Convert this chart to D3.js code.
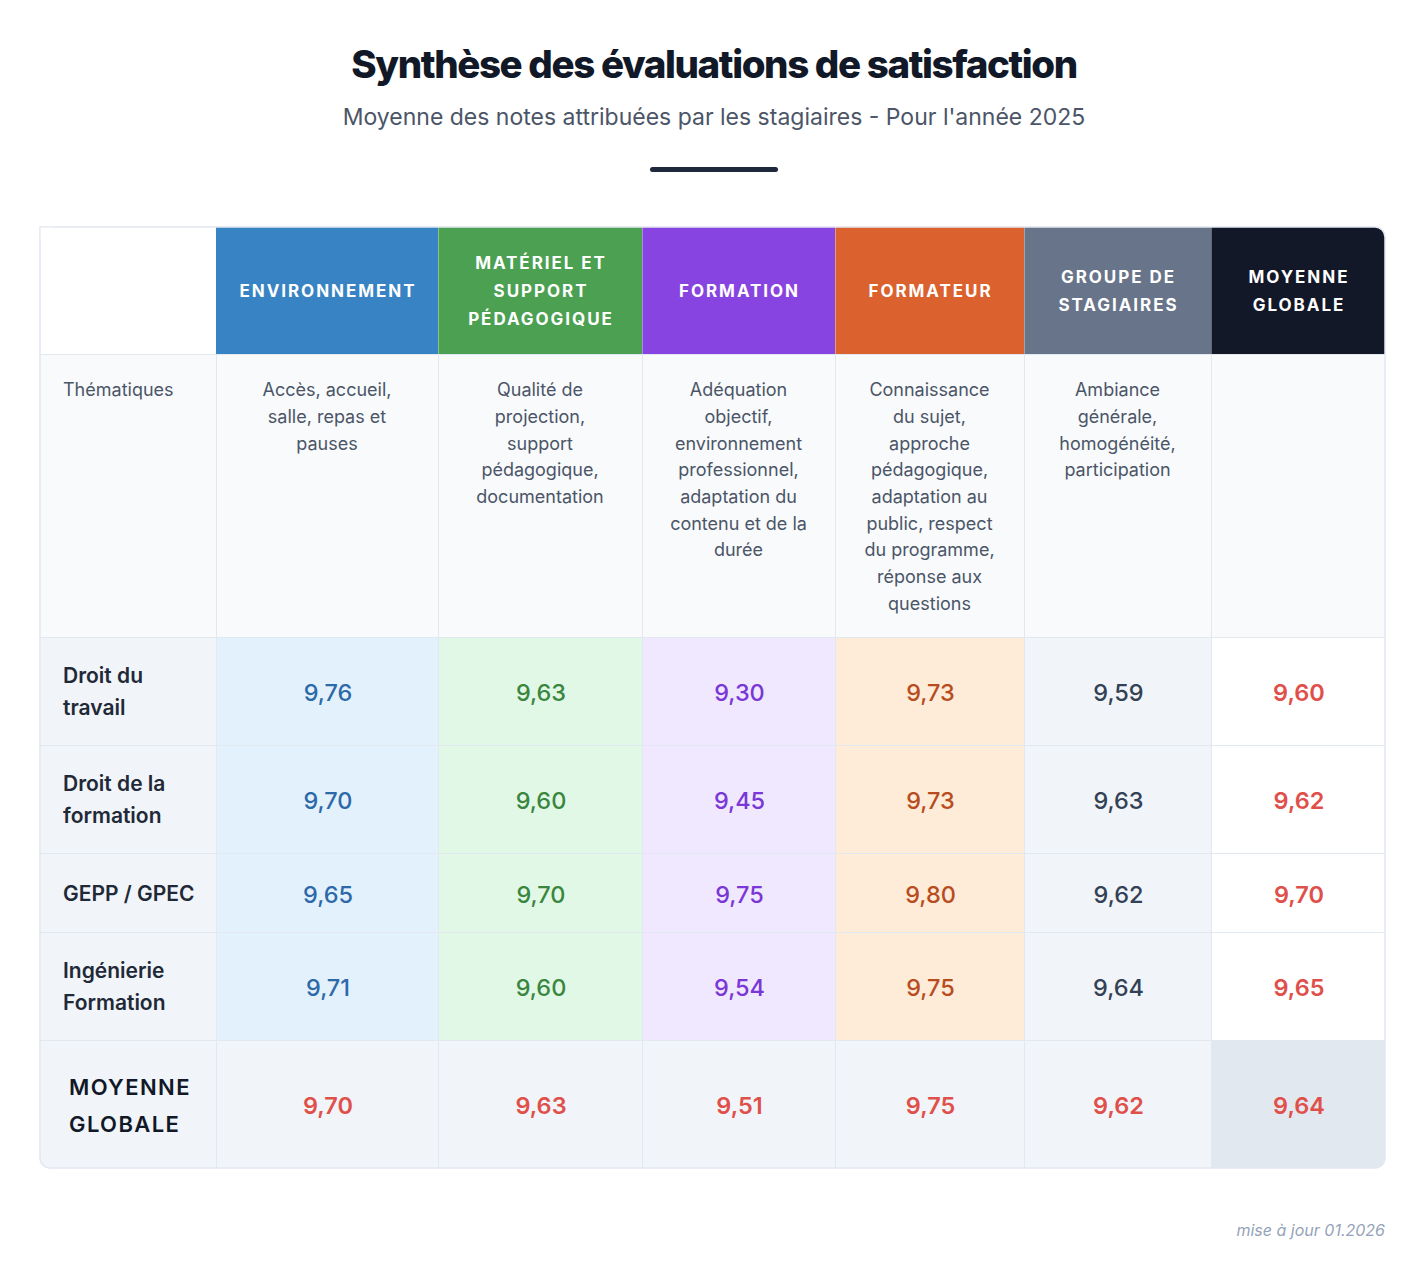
<!DOCTYPE html>
<html><head><meta charset="utf-8">
<script src="https://cdn.jsdelivr.net/npm/d3@7"></script>
<style>
html,body{margin:0;padding:0;background:#ffffff;}
svg{display:block;font-family:Inter,"Noto Sans",sans-serif;}
</style></head>
<body>
<svg id="chart" width="1428" height="1268"></svg>
<script>
// ---------- DATA ----------
const title = "Synthèse des évaluations de satisfaction";
const subtitle = "Moyenne des notes attribuées par les stagiaires - Pour l'année 2025";
const footnote = "mise à jour 01.2026";
const columnHeaders = [
  ["ENVIRONNEMENT"],
  ["MATÉRIEL ET","SUPPORT","PÉDAGOGIQUE"],
  ["FORMATION"],
  ["FORMATEUR"],
  ["GROUPE DE","STAGIAIRES"],
  ["MOYENNE","GLOBALE"]
];
const themeLabel = "Thématiques";
const themeDescriptions = [
  ["Accès, accueil,","salle, repas et","pauses"],
  ["Qualité de","projection,","support","pédagogique,","documentation"],
  ["Adéquation","objectif,","environnement","professionnel,","adaptation du","contenu et de la","durée"],
  ["Connaissance","du sujet,","approche","pédagogique,","adaptation au","public, respect","du programme,","réponse aux","questions"],
  ["Ambiance","générale,","homogénéité,","participation"],
  []
];
const rowLabels = [
  ["Droit du","travail"],
  ["Droit de la","formation"],
  ["GEPP / GPEC"],
  ["Ingénierie","Formation"]
];
const rowDroitTravail   = [9.76, 9.63, 9.30, 9.73, 9.59, 9.60];
const rowDroitFormation = [9.70, 9.60, 9.45, 9.73, 9.63, 9.62];
const rowGepp           = [9.65, 9.70, 9.75, 9.80, 9.62, 9.70];
const rowIngenierie     = [9.71, 9.60, 9.54, 9.75, 9.64, 9.65];
const globalLabel = ["MOYENNE","GLOBALE"];
const globalAverages    = [9.70, 9.63, 9.51, 9.75, 9.62, 9.64];

// ---------- STYLE / LAYOUT ----------
const headerFill = ["#3783c3","#4ba052","#8844e0","#db622e","#687489","#121828"];
const cellFill   = ["#e3f1fd","#e2f8e7","#f0e8fe","#feecd8","#f1f5f9","#ffffff"];
const valueColor = ["#2c69a8","#3a863e","#7a36d6","#b84c1f","#334155","#e0504b"];
const valueWeight= [500,500,500,500,500,600];
const colWidths  = [176, 222, 204, 193, 189, 187, 174];
const rowHeights = [127, 283, 108, 108, 79, 108, 128];
const tableLeft = 40, tableTop = 227;
const border = "#e2e8f0";

const fr = d3.formatLocale({decimal:",", thousands:" ", grouping:[3], currency:["","€"]});
const fmt = fr.format(".2f");

const svg = d3.select("#chart");
const W = 1428;

// column and row edge scales
const colEdges = d3.cumsum([0, ...colWidths]).map(v => v + tableLeft);
const rowEdges = d3.cumsum([0, ...rowHeights]).map(v => v + tableTop);
const x = d3.scaleOrdinal().domain(d3.range(colEdges.length)).range(colEdges);
const y = d3.scaleOrdinal().domain(d3.range(rowEdges.length)).range(rowEdges);
const cw = i => x(i+1) - x(i);
const rh = i => y(i+1) - y(i);
const tableRight = x(colWidths.length), tableBottom = y(rowHeights.length);

// Title block
svg.append("text").attr("x", W/2).attr("y", 78).attr("text-anchor","middle")
  .attr("font-size", 38.5).attr("font-weight", 800).attr("letter-spacing", -1.4)
  .attr("fill","#111827").text(title);
svg.append("text").attr("x", W/2).attr("y", 125).attr("text-anchor","middle")
  .attr("font-size", 23).attr("font-weight", 400).attr("fill","#4b5567").text(subtitle);
svg.append("rect").attr("x", W/2-64).attr("y", 167).attr("width",128).attr("height",5)
  .attr("rx",2.5).attr("fill","#1e293b");

// Table clip
const defs = svg.append("defs");
defs.append("clipPath").attr("id","tclip").append("rect")
  .attr("x", tableLeft).attr("y", tableTop).attr("width", tableRight-tableLeft)
  .attr("height", tableBottom-tableTop).attr("rx", 10);

const g = svg.append("g").attr("clip-path","url(#tclip)");
g.append("rect").attr("x",tableLeft).attr("y",tableTop).attr("width",cw(0)).attr("height",rh(0)).attr("fill","#fff");

const dataRows = [rowDroitTravail, rowDroitFormation, rowGepp, rowIngenierie];

// header row
columnHeaders.forEach((lines, j) => {
  const c = j+1;
  g.append("rect").attr("x",x(c)).attr("y",y(0)).attr("width",cw(c)).attr("height",rh(0)).attr("fill",headerFill[j]);
  const lh = 28, cy = y(0) + rh(0)/2 - (lines.length-1)*lh/2 + 0.5;
  const t = g.append("text").attr("text-anchor","middle").attr("fill","#fff")
    .attr("font-size",17).attr("font-weight",700).attr("letter-spacing",1.95);
  lines.forEach((s,k) => t.append("tspan").attr("x", x(c)+cw(c)/2 + 1).attr("y", cy + k*lh).attr("dy","0.35em").text(s));
});

// thematiques row
g.append("rect").attr("x",x(0)).attr("y",y(1)).attr("width",tableRight-tableLeft).attr("height",rh(1)).attr("fill","#f8fafc");
g.append("text").attr("x",x(0)+23).attr("y",y(1)+36).attr("dy","0.35em").attr("font-size",18)
  .attr("fill","#4b5567").text(themeLabel);
themeDescriptions.forEach((lines, j) => {
  const c = j+1;
  const t = g.append("text").attr("text-anchor","middle").attr("fill","#4b5567").attr("font-size",18);
  lines.forEach((s,k) => t.append("tspan").attr("x", x(c)+cw(c)/2).attr("y", y(1)+36+k*26.65).attr("dy","0.35em").text(s));
});

// data rows
dataRows.forEach((vals, i) => {
  const r = i+2;
  g.append("rect").attr("x",x(0)).attr("y",y(r)).attr("width",cw(0)).attr("height",rh(r)).attr("fill","#f1f5f9");
  const lines = rowLabels[i], lh = 32, cy = y(r)+rh(r)/2 - (lines.length-1)*lh/2 + 1;
  const t = g.append("text").attr("fill","#1f2937").attr("font-size",21).attr("font-weight",600);
  lines.forEach((s,k) => t.append("tspan").attr("x", x(0)+23).attr("y", cy+k*lh).attr("dy","0.35em").text(s));
  vals.forEach((v, j) => {
    const c = j+1;
    g.append("rect").attr("x",x(c)).attr("y",y(r)).attr("width",cw(c)).attr("height",rh(r)).attr("fill",cellFill[j]);
    g.append("text").attr("x",x(c)+cw(c)/2 + 1).attr("y",y(r)+rh(r)/2 + 2).attr("dy","0.35em")
      .attr("text-anchor","middle").attr("font-size",23.5).attr("font-weight",valueWeight[j])
      .attr("fill",valueColor[j]).text(fmt(v));
  });
});

// global row
const gr = rowHeights.length-1;
g.append("rect").attr("x",x(0)).attr("y",y(gr)).attr("width",tableRight-tableLeft).attr("height",rh(gr)).attr("fill","#f1f5f9");
g.append("rect").attr("x",x(6)).attr("y",y(gr)).attr("width",cw(6)).attr("height",rh(gr)).attr("fill","#e2e8f0");
{
  const lh = 37, cy = y(gr)+rh(gr)/2 - lh/2 + 1.5;
  const t = g.append("text").attr("fill","#111827").attr("font-size",22).attr("font-weight",600).attr("letter-spacing",1.4);
  globalLabel.forEach((s,k) => t.append("tspan").attr("x", x(0)+29).attr("y", cy+k*lh).attr("dy","0.35em").text(s));
}
globalAverages.forEach((v,j) => {
  const c = j+1;
  g.append("text").attr("x",x(c)+cw(c)/2 + 1).attr("y",y(gr)+rh(gr)/2 + 2).attr("dy","0.35em")
    .attr("text-anchor","middle").attr("font-size",23.5).attr("font-weight",600)
    .attr("fill","#e0504b").text(fmt(v));
});

// grid lines
const grid = g.append("g").attr("stroke",border).attr("stroke-width",1).attr("shape-rendering","crispEdges");
d3.range(1, colEdges.length-1).forEach(i => {
  grid.append("line").attr("x1",x(i)+0.5).attr("x2",x(i)+0.5).attr("y1", y(1)).attr("y2",tableBottom);
});
d3.range(1, rowEdges.length-1).forEach(r => {
  grid.append("line").attr("x1",tableLeft).attr("x2",tableRight).attr("y1",y(r)+0.5).attr("y2",y(r)+0.5);
});
d3.range(2, colEdges.length-1).forEach(i => {
  g.append("line").attr("x1",x(i)+0.5).attr("x2",x(i)+0.5).attr("y1",tableTop).attr("y2",y(1))
    .attr("stroke","rgba(255,255,255,0.35)").attr("shape-rendering","crispEdges");
});
// outer border
svg.append("path").attr("fill","none").attr("stroke",border).attr("stroke-width",1.5)
  .attr("d", (() => {
    const l=tableLeft, t=tableTop, r=tableRight, b=tableBottom, R=10;
    return `M${l},${t} H${r-R} A${R},${R} 0 0 1 ${r},${t+R} V${b-R} A${R},${R} 0 0 1 ${r-R},${b} H${l+R} A${R},${R} 0 0 1 ${l},${b-R} Z`;
  })());
svg.append("rect").attr("x",tableLeft+0.75).attr("y",tableTop+0.75).attr("width",12).attr("height",12).attr("fill","#fff");

// footnote
svg.append("text").attr("x", tableRight).attr("y", 1236).attr("text-anchor","end")
  .attr("font-size",16).attr("font-style","italic").attr("fill","#94a3b8").text(footnote);
</script>
</body></html>
